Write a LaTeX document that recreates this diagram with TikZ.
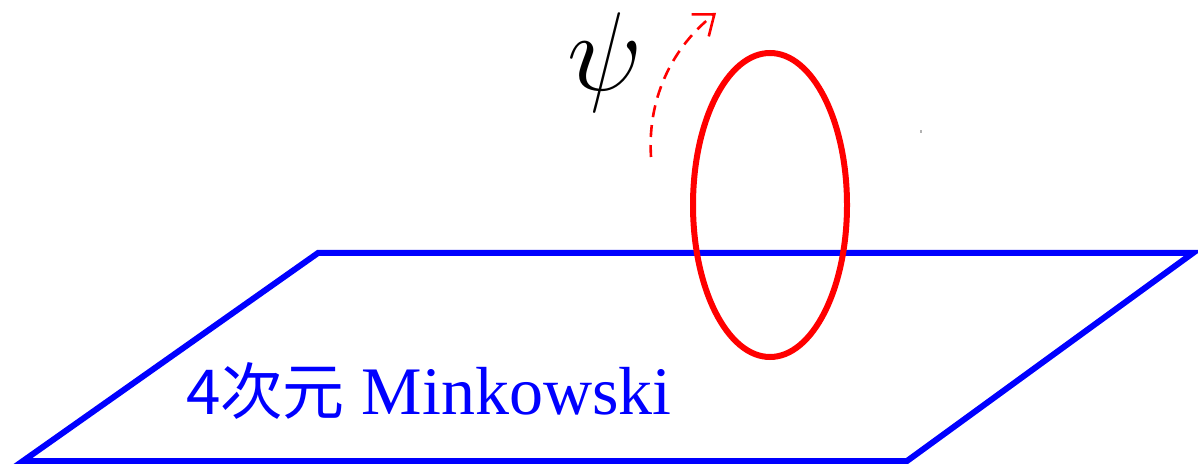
\documentclass[tikz,border=0pt]{standalone}
\usepackage{fontspec}
\newfontfamily\cjkfont{Noto Sans CJK JP}
\newfontfamily\latinfont{Liberation Serif}
\usetikzlibrary{arrows.meta,shapes.geometric}
\begin{document}
\begin{tikzpicture}[x=0.5pt,y=-0.5pt,
  plane/.style={draw=blue,line width=3pt,line join=miter},
  loop/.style={draw=red,line width=3pt,ellipse,inner sep=0pt,minimum width=77pt,minimum height=152pt},
  rot/.style={draw=red,line width=1.3pt,dash pattern=on 6pt off 4pt,-{Straight Barb[length=9pt,width=14pt,line width=1.3pt]}}]
\useasboundingbox (0,0) rectangle (1198,464);
\coordinate (p1) at (318,253);
\coordinate (p2) at (1193,253);
\coordinate (p3) at (907,461);
\coordinate (p4) at (23,461);
\draw[plane] (p1) -- (p2) -- (p3) -- (p4) -- cycle;
\node[loop] (ring) at (770,205) {};
\coordinate (a0) at (651,157);
\coordinate (a1) at (716,13);
\draw[rot] (a0) .. controls (647,95) and (675,45) .. (a1);
\node[anchor=base west,inner sep=0pt,text=blue] (lab) at (186,415) {{\cjkfont\fontsize{31}{36}\selectfont 4次元}\latinfont\fontsize{34}{38}\selectfont\ Minkowski};
\node[inner sep=0pt,font=\fontsize{20}{24}\selectfont,scale=2.7] (psi) at (605,63) {$\psi$};
\fill[gray!60] (920,130) rectangle (922,133);
\end{tikzpicture}
\end{document}
